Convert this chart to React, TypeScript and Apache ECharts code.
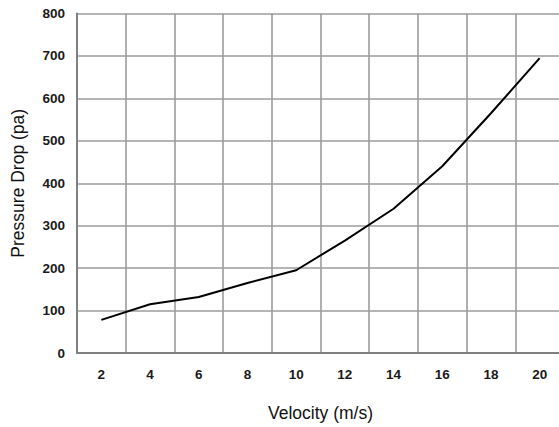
import React, { useEffect, useRef } from "react";
import * as echarts from "echarts";

const velocities = ["2", "4", "6", "8", "10", "12", "14", "16", "18", "20"];
const pressureDrop = [78, 115, 132, 165, 195, 265, 340, 440, 565, 695];
const yTicks = { min: 0, max: 800, interval: 100 };
const xName = "Velocity (m/s)";
const yName = "Pressure Drop (pa)";

export default function App() {
  const ref = useRef<HTMLDivElement>(null);
  useEffect(() => {
    if (!ref.current) return;
    const chart = echarts.init(ref.current, undefined, { renderer: "svg" });
    const font = "'Liberation Sans', Arial, Helvetica, sans-serif";
    chart.setOption({
      animation: false,
      backgroundColor: "#ffffff",
      grid: {
        left: 77,
        top: 13.5,
        width: 487,
        height: 339.5,
        containLabel: false,
        outerBoundsMode: "none",
      },
      xAxis: {
        type: "category",
        data: velocities,
        boundaryGap: true,
        name: xName,
        nameLocation: "middle",
        nameGap: 51,
        nameTextStyle: { fontFamily: font, fontSize: 17.5, color: "#111" },
        axisLine: { show: true, lineStyle: { color: "#808080", width: 2 } },
        axisTick: { show: false },
        axisLabel: {
          interval: 0,
          margin: 14,
          fontFamily: font,
          fontSize: 13.5,
          fontWeight: "bold",
          color: "#1a1a1a",
        },
        splitLine: {
          show: true,
          interval: 0,
          lineStyle: { color: "#9c9c9c", width: 1.6 },
        },
      },
      yAxis: {
        type: "value",
        min: yTicks.min,
        max: yTicks.max,
        interval: yTicks.interval,
        name: yName,
        nameLocation: "middle",
        nameGap: 50,
        nameTextStyle: { fontFamily: font, fontSize: 17.5, color: "#111" },
        axisLine: { show: true, lineStyle: { color: "#808080", width: 2 } },
        axisTick: { show: false },
        axisLabel: {
          margin: 12,
          fontFamily: font,
          fontSize: 13.5,
          fontWeight: "bold",
          color: "#1a1a1a",
        },
        splitLine: {
          show: true,
          lineStyle: { color: "#9c9c9c", width: 1.6 },
        },
      },
      series: [
        {
          type: "line",
          data: pressureDrop,
          showSymbol: false,
          symbol: "none",
          lineStyle: { color: "#000", width: 2 },
        },
      ],
    });
    return () => chart.dispose();
  }, []);
  return (
    <div
      ref={ref}
      style={{ position: "absolute", left: 0, top: 0, width: 559, height: 427 }}
    />
  );
}
